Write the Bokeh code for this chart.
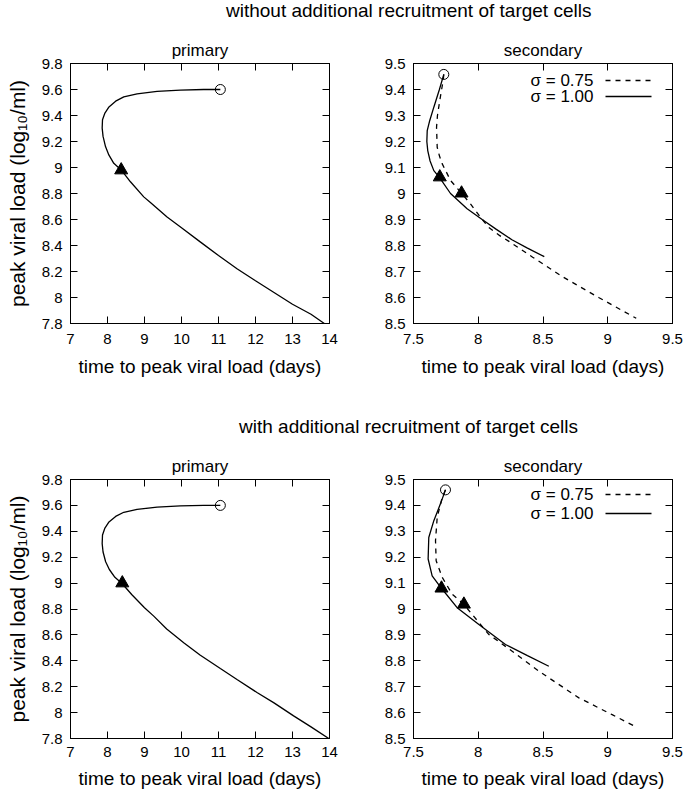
from bokeh.plotting import figure
from bokeh.layouts import column, row
from bokeh.models import Div, LinearAxis, FixedTicker, Label, Arrow, Range1d
from bokeh.embed import file_html
from bokeh.resources import INLINE

FONT = "Liberation Sans"

# ---------------- texts ----------------
section_titles = ["without additional recruitment of target cells",
                  "with additional recruitment of target cells"]
panel_titles = ["primary", "secondary"]
x_label = "time to peak viral load (days)"
y_label = "peak viral load (log\u2081\u2080/ml)"
legend_labels = ["\u03c3 = 0.75", "\u03c3 = 1.00"]

# ---------------- ticks ----------------
prim_x_ticks = [7, 8, 9, 10, 11, 12, 13, 14]
prim_x_labels = ["7", "8", "9", "10", "11", "12", "13", "14"]
prim_y_ticks = [7.8, 8.0, 8.2, 8.4, 8.6, 8.8, 9.0, 9.2, 9.4, 9.6, 9.8]
prim_y_labels = ["7.8", "8", "8.2", "8.4", "8.6", "8.8", "9", "9.2", "9.4", "9.6", "9.8"]
sec_x_ticks = [7.5, 8.0, 8.5, 9.0, 9.5]
sec_x_labels = ["7.5", "8", "8.5", "9", "9.5"]
sec_y_ticks = [8.5, 8.6, 8.7, 8.8, 8.9, 9.0, 9.1, 9.2, 9.3, 9.4, 9.5]
sec_y_labels = ["8.5", "8.6", "8.7", "8.8", "8.9", "9", "9.1", "9.2", "9.3", "9.4", "9.5"]

# ---------------- data: without recruitment ----------------
nr_prim_x = [11.05, 10.6, 9.97, 9.34, 8.80, 8.44, 8.22, 8.04, 7.93, 7.865, 7.856, 7.88,
             7.946, 8.036, 8.17, 8.37, 8.62, 8.98, 9.16, 9.61, 10.0, 10.515, 11.0, 11.51,
             12.0, 12.5, 13.0, 13.5, 13.86]
nr_prim_y = [9.60, 9.60, 9.595, 9.585, 9.566, 9.543, 9.51, 9.466, 9.419, 9.368, 9.303, 9.239,
             9.161, 9.097, 9.032, 8.981, 8.890, 8.774, 8.73, 8.619, 8.537, 8.426, 8.323, 8.219,
             8.129, 8.039, 7.948, 7.871, 7.80]
nr_prim_start = ([11.05], [9.60])
nr_prim_mark = ([8.37], [8.98])

nr_s100_x = [7.734, 7.70, 7.657, 7.625, 7.606, 7.603, 7.61, 7.628, 7.657, 7.70, 7.786,
             7.914, 8.03, 8.14, 8.26, 8.38, 8.51]
nr_s100_y = [9.458, 9.40, 9.332, 9.28, 9.242, 9.20, 9.165, 9.125, 9.088, 9.062, 9.00,
             8.941, 8.90, 8.862, 8.822, 8.79, 8.757]
nr_s075_x = [7.734, 7.729, 7.703, 7.685, 7.678, 7.683, 7.70, 7.722, 7.786, 7.871, 7.94,
             8.017, 8.08, 8.16, 8.24, 8.42, 8.65, 8.93, 9.22]
nr_s075_y = [9.458, 9.435, 9.358, 9.30, 9.255, 9.178, 9.145, 9.114, 9.05, 9.001, 8.96,
             8.909, 8.87, 8.84, 8.815, 8.755, 8.68, 8.60, 8.52]
nr_sec_start = ([7.734], [9.458])
nr_sec_marks = ([7.703, 7.871], [9.063, 9.001])

# ---------------- data: with recruitment ----------------
wr_prim_x = [11.05, 10.6, 9.97, 9.34, 8.80, 8.44, 8.22, 8.04, 7.93, 7.865, 7.856, 7.88,
             7.95, 8.05, 8.20, 8.40, 8.66, 9.0, 9.25, 9.6, 10.06, 10.5, 11.05, 11.5, 12.04,
             12.5, 13.03, 13.5, 13.98]
wr_prim_y = [9.60, 9.60, 9.596, 9.587, 9.569, 9.547, 9.515, 9.472, 9.425, 9.372, 9.305, 9.24,
             9.165, 9.105, 9.045, 8.995, 8.91, 8.81, 8.745, 8.645, 8.54, 8.445, 8.34, 8.255,
             8.155, 8.075, 7.975, 7.89, 7.80]
wr_prim_start = ([11.05], [9.60])
wr_prim_mark = ([8.40], [9.00])

wr_s100_x = [7.747, 7.708, 7.657, 7.618, 7.613, 7.644, 7.716, 7.837, 8.005, 8.21, 8.38, 8.545]
wr_s100_y = [9.46, 9.406, 9.341, 9.276, 9.193, 9.128, 9.08, 9.005, 8.94, 8.863, 8.82, 8.779]
wr_s075_x = [7.747, 7.722, 7.683, 7.670, 7.675, 7.722, 7.799, 7.889, 7.953, 8.081, 8.262,
             8.468, 8.777, 9.034, 9.214]
wr_s075_y = [9.46, 9.431, 9.354, 9.264, 9.186, 9.122, 9.057, 9.018, 8.979, 8.902, 8.837,
             8.76, 8.657, 8.592, 8.546]
wr_sec_start = ([7.747], [9.46])
wr_sec_marks = ([7.716, 7.889], [9.08, 9.018])


def style_axis(ax, ticks, labels, standoff, label=None, label_standoff=0, label_size="19px"):
    ax.ticker = FixedTicker(ticks=ticks)
    ax.major_label_overrides = dict(zip(ticks, labels))
    ax.major_tick_in = 7
    ax.major_tick_out = 0
    ax.minor_tick_line_color = None
    ax.major_tick_line_color = "black"
    ax.axis_line_color = "black"
    ax.major_label_text_font = FONT
    ax.major_label_text_font_size = "15px"
    ax.major_label_text_color = "black"
    ax.major_label_standoff = standoff
    if label:
        ax.axis_label = label
        ax.axis_label_text_font = FONT
        ax.axis_label_text_font_size = label_size
        ax.axis_label_text_font_style = "normal"
        ax.axis_label_text_color = "black"
        ax.axis_label_standoff = label_standoff


def make_fig(fh, bl, br, bt, bb, xr, yr, xt, xl, yt, yl, title, with_ylabel, xstand,
             xlab_stand):
    p = figure(frame_width=259, frame_height=fh, x_range=Range1d(*xr), y_range=Range1d(*yr),
               output_backend="svg", toolbar_location=None,
               min_border_left=bl, min_border_right=br, min_border_top=bt,
               min_border_bottom=bb, title=title)
    p.title.align = "center"
    p.title.offset = -5
    p.title.text_font = FONT
    p.title.text_font_size = "17px"
    p.title.text_font_style = "normal"
    p.title.text_color = "black"
    p.title.standoff = 8
    p.grid.visible = False
    p.outline_line_color = "black"
    p.outline_line_alpha = 1.0
    p.border_fill_color = "white"
    p.background_fill_color = "white"
    style_axis(p.xaxis[0], xt, xl, xstand, x_label, xlab_stand)
    style_axis(p.yaxis[0], yt, yl, 8, y_label if with_ylabel else None, 10, "21px")
    for loc, ticks in (("above", xt), ("right", yt)):
        ax = LinearAxis(ticker=FixedTicker(ticks=ticks), major_label_text_color=None,
                        major_label_standoff=0, major_tick_in=7, major_tick_out=0,
                        minor_tick_line_color=None, axis_line_color="black",
                        major_tick_line_color="black")
        p.add_layout(ax, loc)
    return p


def add_primary(p, xs, ys, start, mark):
    p.line(xs, ys, line_color="black", line_width=1.3)
    p.scatter(start[0], start[1], marker="circle", size=10, fill_color=None,
              line_color="black", line_width=1)
    p.scatter(mark[0], mark[1], marker="triangle", size=13, fill_color="black",
              line_color="black")


def add_secondary(p, x75, y75, x100, y100, start, marks, rows_y):
    p.line(x75, y75, line_color="black", line_width=1.3, line_dash="5 5")
    p.line(x100, y100, line_color="black", line_width=1.3)
    p.scatter(start[0], start[1], marker="circle", size=10, fill_color=None,
              line_color="black", line_width=1)
    p.scatter(marks[0], marks[1], marker="triangle", size=13, fill_color="black",
              line_color="black")
    dashes = ["5 5", "solid"]
    for lab, yy, dash in zip(legend_labels, rows_y, dashes):
        p.add_layout(Label(x=180, y=yy, x_units="screen", y_units="screen", text=lab,
                           text_align="right", text_baseline="middle", text_font=FONT,
                           text_font_size="17px", text_color="black"))
        p.add_layout(Arrow(x_start=192, y_start=yy, x_end=238, y_end=yy,
                           start_units="screen", end_units="screen", start=None, end=None,
                           line_color="black", line_width=1.3, line_dash=dash))


# top row
p_tl = make_fig(260, 70, 16, 35, 87, (7, 14), (7.8, 9.8), prim_x_ticks, prim_x_labels,
                prim_y_ticks, prim_y_labels, panel_titles[0], True, 10, 9)
add_primary(p_tl, nr_prim_x, nr_prim_y, nr_prim_start, nr_prim_mark)
p_tr = make_fig(260, 68, 13, 35, 87, (7.5, 9.5), (8.5, 9.5), sec_x_ticks, sec_x_labels,
                sec_y_ticks, sec_y_labels, panel_titles[1], False, 10, 9)
add_secondary(p_tr, nr_s075_x, nr_s075_y, nr_s100_x, nr_s100_y, nr_sec_start, nr_sec_marks,
              [243, 227])

# bottom row
p_bl = make_fig(259, 70, 16, 35, 56, (7, 14), (7.8, 9.8), prim_x_ticks, prim_x_labels,
                prim_y_ticks, prim_y_labels, panel_titles[0], True, 8, 8)
add_primary(p_bl, wr_prim_x, wr_prim_y, wr_prim_start, wr_prim_mark)
p_br = make_fig(259, 68, 13, 35, 56, (7.5, 9.5), (8.5, 9.5), sec_x_ticks, sec_x_labels,
                sec_y_ticks, sec_y_labels, panel_titles[1], False, 8, 8)
add_secondary(p_br, wr_s075_x, wr_s075_y, wr_s100_x, wr_s100_y, wr_sec_start, wr_sec_marks,
              [244, 225])


def section_div(text, h, lh, indent):
    return Div(text=text, width=685, height=h, margin=0,
               styles={"font-family": FONT, "font-size": "19px", "line-height": f"{lh}px",
                       "color": "black", "white-space": "nowrap",
                       "text-indent": f"{indent}px"})


layout = column(section_div(section_titles[0], 28, 22, 226), row(p_tl, p_tr),
                section_div(section_titles[1], 34, 34, 239), row(p_bl, p_br), spacing=0)

open("out.html", "w").write(file_html(layout, INLINE))
